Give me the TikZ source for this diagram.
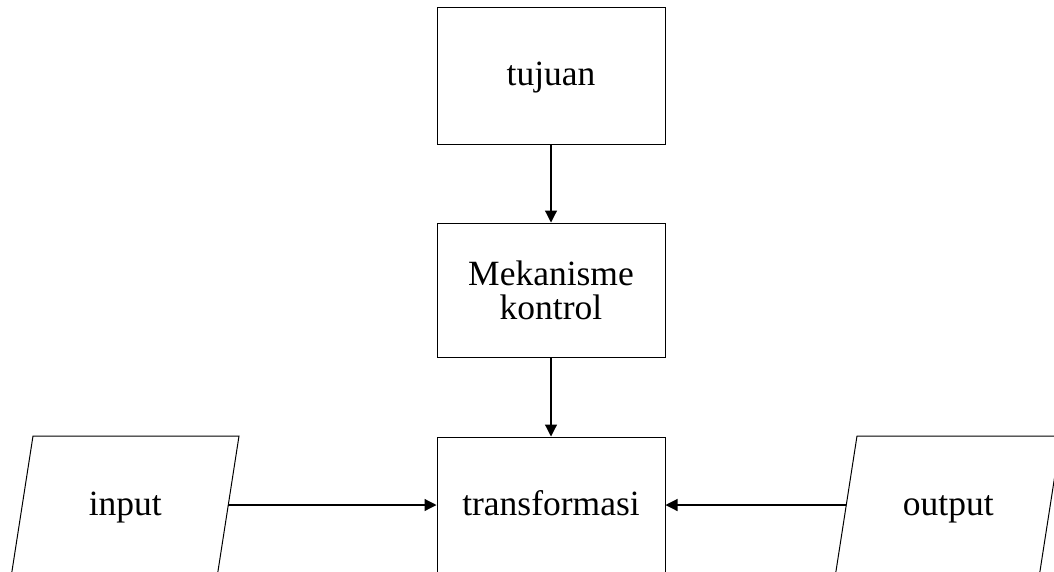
\documentclass[tikz,border=0pt]{standalone}
\usepackage{fontspec}
\setmainfont{Liberation Serif}
\usetikzlibrary{arrows.meta}
\begin{document}
\begin{tikzpicture}[x=1pt,y=-1pt,
  box/.style={draw, line width=1pt, minimum width=228pt, align=center, inner sep=0pt,
    font=\fontsize{35.5}{34}\selectfont},
  oneline/.style={text height=24pt, text depth=5pt},
  lbl/.style={inner sep=0pt, anchor=base, font=\fontsize{35.5}{34}\selectfont},
  para/.style={draw, line width=1pt},
  conn/.style={line width=1.2pt, -{Triangle[width=12pt,length=12pt]}}]
\useasboundingbox (0,0) rectangle (1054,571);
\node[box, oneline, minimum height=137pt] (tujuan) at (551,75.5) {tujuan};
\node[box, minimum height=134pt] (mek) at (551,290) {Mekanisme\\kontrol};
\node[box, oneline, minimum height=137pt] (trans) at (551,505.5) {transformasi};
% input parallelogram
\draw[para] (33,436) -- (239,436) -- (217.7,573) -- (11.7,573) -- cycle;
\node[lbl] (input) at (125.3,515) {input};
\coordinate (inR) at (228.3,505);
% output parallelogram
\draw[para] (857,436) -- (1061,436) -- (1039.7,573) -- (835.7,573) -- cycle;
\node[lbl] (output) at (948.3,515) {output};
\coordinate (outL) at (846.3,505);
\draw[conn] (tujuan.south) -- (mek.north);
\draw[conn] (mek.south) -- (trans.north);
\draw[conn] (inR) -- (trans.west |- inR);
\draw[conn] (outL) -- (trans.east |- outL);
\end{tikzpicture}
\end{document}
